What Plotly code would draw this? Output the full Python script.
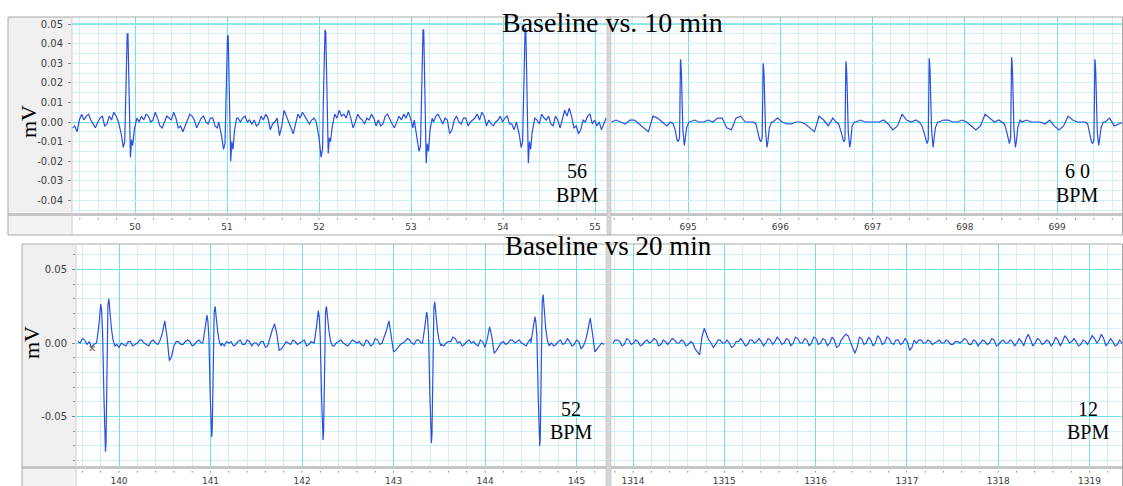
import math
import plotly.graph_objects as go

W, H = 1123, 486

# ---------------- data (time in s, signal in mV) ----------------
# Top-left: baseline samples every 0.05 s from 49.32 s, plus half-step samples
tl_start, tl_step = 49.32, 0.05
tl_base = [-0.003, -0.005, 0.004, 0.003, 0.001, -0.003, 0.002, -0.002, 0.003, 0.005,
           0.000, 0.000, 0.000, 0.000, 0.002, 0.003, 0.004, 0.000, 0.005, -0.002,
           0.000, 0.002, 0.005, -0.003, -0.005, 0.001, 0.003, -0.003, 0.002, 0.000,
           0.002, -0.002, -0.005, 0.000, 0.000, 0.000, 0.002, 0.002, 0.000, -0.001,
           -0.002, 0.003, 0.004, -0.004, 0.000, -0.007, 0.006, 0.000, -0.006, 0.004,
           0.005, 0.001, 0.001, 0.000, 0.000, 0.000, 0.000, 0.004, 0.006, 0.004,
           0.006, -0.003, 0.004, 0.001, 0.002, 0.004, -0.002, -0.002, 0.003, 0.001,
           -0.003, 0.003, 0.004, 0.005, -0.003, 0.000, 0.000, 0.000, 0.000, 0.003,
           0.001, 0.002, -0.006, 0.001, 0.000, 0.002, -0.002, 0.001, 0.004, 0.005,
           -0.002, -0.001, 0.000, 0.003, 0.002, -0.001, -0.004, 0.000, 0.000, 0.000,
           0.000, 0.001, 0.004, 0.001, -0.001, 0.003, -0.003, 0.006, 0.007, -0.003,
           -0.006, 0.001, 0.003, -0.001, -0.002, -0.004, 0.002]
tl_mid = [-0.002, 0.001, 0.001, 0.004, -0.001, 0.000, 0.003, -0.001, 0.001, 0.003,
          0.000, 0.000, 0.000, 0.000, 0.000, 0.001, 0.003, 0.001, 0.002, -0.003,
          0.003, 0.001, 0.002, -0.002, -0.002, 0.004, 0.001, 0.000, 0.003, -0.001,
          0.002, -0.003, 0.000, 0.000, 0.000, 0.000, 0.000, 0.003, 0.001, 0.001,
          -0.001, 0.001, 0.002, -0.001, 0.002, -0.002, 0.003, -0.002, -0.001, 0.002,
          0.003, -0.001, 0.002, 0.000, 0.000, 0.000, 0.000, 0.002, 0.003, 0.002,
          0.002, 0.000, 0.002, -0.001, 0.001, 0.002, 0.001, -0.001, 0.004, -0.001,
          0.000, 0.001, 0.002, 0.002, -0.004, 0.000, 0.000, 0.000, 0.000, 0.004,
          -0.001, 0.001, -0.004, 0.003, -0.001, 0.002, 0.000, 0.002, 0.001, 0.003,
          0.001, -0.002, 0.001, 0.000, 0.003, -0.001, 0.000, 0.000, 0.000, 0.000,
          0.002, -0.001, 0.002, 0.003, -0.002, 0.001, 0.001, 0.003, 0.003, -0.002,
          -0.004, 0.000, 0.004, 0.001, 0.000, -0.001]
tl_beats = [49.92, 51.01, 52.07, 53.135, 54.245]
tl_qrs_dt = [-0.10, -0.07, -0.048, -0.032, -0.022, -0.013, -0.005, 0.003, 0.010,
             0.017, 0.030, 0.042, 0.055, 0.072, 0.095]
tl_qrs_v = [
    [0.000, -0.006, -0.013, -0.010, 0.012, 0.027, 0.045, 0.045, 0.026, 0.000, -0.018, -0.009, -0.012, -0.004, 0.001],
    [0.000, -0.007, -0.014, -0.011, 0.012, 0.026, 0.044, 0.044, 0.025, 0.000, -0.020, -0.010, -0.014, -0.004, 0.002],
    [0.000, -0.008, -0.018, -0.014, 0.013, 0.028, 0.047, 0.046, 0.027, 0.000, -0.016, -0.008, -0.010, -0.003, 0.003],
    [0.001, -0.007, -0.015, -0.012, 0.012, 0.027, 0.047, 0.047, 0.027, 0.000, -0.021, -0.011, -0.015, -0.004, 0.002],
    [0.000, -0.006, -0.013, -0.010, 0.012, 0.028, 0.048, 0.047, 0.027, 0.000, -0.021, -0.010, -0.014, -0.005, 0.001],
]

# Top-right
tr_start, tr_step = 694.17, 0.05
tr_base = [0.000, 0.001, 0.000, -0.001, 0.001, 0.001, -0.001, -0.003, -0.005, 0.003,
           0.002, 0.000, -0.002, 0.000, 0.000, 0.000, 0.000, 0.000, 0.001, 0.000,
           0.000, 0.001, 0.000, 0.002, 0.002, -0.003, -0.004, 0.002, 0.003, 0.000,
           0.000, 0.000, 0.000, 0.000, 0.000, 0.000, 0.002, 0.000, -0.001, -0.001,
           0.000, 0.000, -0.001, -0.003, -0.005, 0.003, 0.001, -0.002, 0.002, 0.000,
           0.000, 0.000, 0.000, 0.000, 0.001, 0.000, 0.000, 0.000, 0.000, 0.001,
           -0.001, -0.004, -0.002, 0.004, 0.001, 0.000, 0.001, 0.000, 0.000, 0.000,
           0.000, 0.000, 0.001, 0.001, 0.000, 0.000, 0.001, 0.000, -0.002, -0.004,
           -0.002, 0.004, 0.002, 0.000, 0.001, 0.000, 0.000, 0.000, 0.000, 0.000,
           0.001, 0.000, 0.000, 0.000, -0.001, 0.001, -0.002, -0.004, -0.002, 0.003,
           0.001, 0.000, 0.000, 0.000, 0.000, 0.000, 0.000, 0.000, 0.002, -0.002,
           -0.001, 0.000]
tr_mid = None
tr_beats = [694.92, 695.816, 696.713, 697.616, 698.509, 699.412]
tr_qrs_dt = [-0.11, -0.08, -0.06, -0.04, -0.025, -0.012, -0.006, -0.002, 0.003, 0.008,
             0.014, 0.024, 0.040, 0.050, 0.065, 0.09]
tr_qrs_v = [
    [0.000, -0.001, -0.004, -0.009, -0.010, -0.008, 0.015, 0.032, 0.030, 0.025, 0.012, -0.004, -0.012, -0.009, -0.003, 0.000],
    [0.000, -0.001, -0.005, -0.009, -0.010, -0.008, 0.014, 0.030, 0.028, 0.024, 0.011, -0.004, -0.013, -0.010, -0.003, 0.000],
    [0.000, -0.001, -0.004, -0.008, -0.010, -0.009, 0.015, 0.031, 0.029, 0.024, 0.012, -0.005, -0.013, -0.010, -0.002, 0.000],
    [0.000, -0.002, -0.005, -0.009, -0.011, -0.009, 0.016, 0.0325, 0.030, 0.025, 0.012, -0.004, -0.013, -0.009, -0.003, 0.000],
    [0.000, -0.001, -0.004, -0.009, -0.011, -0.008, 0.016, 0.033, 0.031, 0.026, 0.013, -0.004, -0.013, -0.010, -0.003, 0.001],
    [0.000, -0.001, -0.005, -0.010, -0.011, -0.009, 0.015, 0.032, 0.030, 0.025, 0.012, -0.005, -0.012, -0.009, -0.003, 0.000],
]

# Bottom-left
bl_start, bl_step = 139.55, 0.05
bl_base = [0.001, 0.003, -0.001, -0.003, 0.000, 0.000, 0.000, 0.000, 0.000, -0.003,
           -0.001, 0.001, -0.002, 0.000, 0.002, -0.001, 0.001, 0.000, 0.002, 0.015,
           -0.012, -0.002, 0.001, -0.001, 0.002, -0.002, 0.001, 0.000, 0.000, 0.000,
           0.000, 0.000, -0.002, 0.000, -0.002, 0.001, -0.001, 0.002, -0.002, 0.000,
           0.001, -0.003, 0.004, 0.013, -0.005, -0.002, 0.000, 0.002, -0.001, 0.001,
           -0.002, 0.001, 0.000, 0.000, 0.000, 0.000, -0.002, 0.001, 0.000, -0.002,
           0.002, 0.000, -0.001, 0.002, -0.002, 0.003, -0.001, 0.004, 0.015, -0.006,
           -0.003, 0.000, 0.003, 0.000, 0.002, 0.000, 0.000, 0.000, 0.000, 0.000,
           -0.002, 0.001, 0.004, 0.000, -0.002, 0.001, 0.000, -0.001, 0.002, -0.003,
           0.011, -0.007, -0.002, 0.001, 0.000, 0.002, 0.001, 0.000, -0.002, 0.003,
           0.000, 0.000, 0.000, 0.000, -0.002, 0.001, -0.001, 0.003, -0.002, 0.002,
           -0.004, 0.002, 0.017, -0.006, -0.002, -0.001]
bl_mid = [0.000, 0.002, 0.001, -0.001, 0.000, 0.000, 0.000, 0.000, -0.001, 0.000,
          -0.002, 0.001, -0.001, 0.002, 0.000, -0.002, 0.002, -0.001, 0.007, 0.004,
          -0.009, 0.001, -0.001, 0.001, 0.001, -0.001, 0.002, 0.000, 0.000, 0.000,
          0.000, 0.000, 0.001, 0.001, -0.001, 0.002, -0.001, 0.001, 0.000, -0.002,
          0.001, -0.002, 0.009, 0.006, -0.004, 0.001, -0.001, 0.001, 0.000, 0.002,
          -0.001, 0.000, 0.000, 0.000, 0.000, 0.000, 0.000, 0.002, -0.001, 0.000,
          0.001, 0.001, -0.002, 0.001, -0.001, 0.002, 0.000, 0.009, 0.005, -0.005,
          -0.001, 0.001, 0.002, -0.001, 0.002, 0.000, 0.000, 0.000, 0.000, -0.001,
          0.000, 0.001, 0.003, 0.001, -0.001, 0.002, 0.001, -0.002, 0.001, 0.003,
          0.004, -0.005, 0.000, -0.001, 0.002, 0.000, 0.002, -0.001, 0.001, 0.000,
          0.000, 0.000, 0.000, 0.000, -0.001, 0.002, 0.000, 0.001, -0.001, 0.001,
          -0.002, 0.009, 0.006, -0.004, 0.000]
bl_beats = [139.855, 141.016, 142.233, 143.417, 144.601]
bl_qrs_dt = [-0.10, -0.075, -0.055, -0.045, -0.034, -0.020, -0.003, 0.003, 0.012, 0.024,
             0.034, 0.046, 0.062, 0.080, 0.100]
bl_qrs_v = [
    [0.000, 0.012, 0.0265, 0.022, 0.006, -0.036, -0.074, -0.068, -0.012, 0.026, 0.030, 0.021, 0.010, 0.002, -0.002],
    [0.000, 0.010, 0.019, 0.015, 0.004, -0.034, -0.064, -0.058, -0.010, 0.021, 0.025, 0.016, 0.008, 0.001, -0.002],
    [0.000, 0.011, 0.022, 0.018, 0.005, -0.035, -0.066, -0.060, -0.011, 0.021, 0.025, 0.016, 0.008, 0.001, -0.002],
    [0.000, 0.011, 0.021, 0.017, 0.005, -0.035, -0.068, -0.062, -0.011, 0.024, 0.028, 0.019, 0.009, 0.002, -0.002],
    [0.000, 0.009, 0.018, 0.014, 0.004, -0.036, -0.070, -0.064, -0.012, 0.028, 0.033, 0.023, 0.010, 0.002, -0.002],
]

# Bottom-right (no beats)
br_start, br_step = 1313.78, 0.05
br_base = [0.000, 0.002, -0.002, 0.003, -0.001, 0.002, -0.002, 0.001, 0.000, 0.003,
           -0.002, 0.002, -0.001, 0.003, 0.000, 0.002, -0.002, 0.001, -0.004, -0.008,
           0.010, 0.002, -0.003, 0.002, 0.000, 0.002, -0.003, 0.001, 0.003, -0.002,
           0.002, 0.000, 0.003, -0.002, 0.003, -0.001, 0.004, -0.001, 0.003, -0.002,
           0.004, 0.000, 0.003, -0.002, 0.004, -0.001, 0.003, -0.002, 0.004, -0.003,
           0.002, 0.006, 0.001, -0.007, 0.004, -0.001, 0.004, -0.002, 0.005, -0.001,
           0.004, 0.000, 0.002, -0.001, 0.003, -0.005, 0.002, 0.002, 0.000, 0.002,
           -0.001, 0.001, 0.000, 0.002, -0.001, 0.001, 0.000, 0.003, -0.001, 0.002,
           -0.002, 0.002, -0.001, 0.003, -0.002, 0.001, 0.000, 0.002, -0.002, 0.003,
           -0.002, 0.006, -0.002, 0.003, -0.001, 0.002, -0.002, 0.004, -0.002, 0.005,
           0.000, 0.003, -0.002, 0.002, -0.001, 0.005, 0.000, 0.006, -0.002, 0.003,
           -0.002, 0.002, -0.003]
br_mid = [0.002, 0.001, -0.001, 0.002, 0.000, 0.001, -0.001, 0.002, 0.001, 0.002,
          -0.001, 0.001, 0.001, 0.002, 0.000, 0.001, -0.001, 0.000, -0.006, 0.004,
          0.006, 0.000, -0.001, 0.002, 0.000, 0.000, -0.002, 0.001, 0.001, -0.001,
          0.002, 0.001, 0.001, 0.000, 0.002, 0.001, 0.002, 0.000, 0.002, 0.000,
          0.003, 0.000, 0.002, 0.000, 0.003, 0.000, 0.002, 0.000, 0.002, -0.002,
          0.004, 0.005, -0.002, -0.003, 0.003, 0.000, 0.002, 0.000, 0.003, 0.000,
          0.003, -0.001, 0.002, 0.000, 0.001, -0.003, 0.000, 0.002, 0.000, 0.001,
          0.000, 0.002, 0.000, 0.001, -0.001, 0.001, 0.001, 0.002, -0.001, 0.001,
          0.000, 0.001, 0.000, 0.002, -0.001, 0.002, 0.000, 0.001, 0.000, 0.001,
          0.003, 0.002, 0.000, 0.002, 0.000, 0.001, 0.000, 0.002, 0.001, 0.003,
          0.001, 0.001, -0.001, 0.001, 0.002, 0.003, 0.002, 0.003, 0.000, 0.001,
          -0.001, 0.000]
br_beats = []
br_qrs_dt = []
br_qrs_v = []

top_y_ticks = [0.05, 0.04, 0.03, 0.02, 0.01, 0.0, -0.01, -0.02, -0.03, -0.04]
top_y_labels = ["0.05", "0.04", "0.03", "0.02", "0.01", "0.00", "-0.01", "-0.02", "-0.03", "-0.04"]
bot_y_ticks = [0.05, 0.0, -0.05]
bot_y_labels = ["0.05", "0.00", "-0.05"]
titles = ["Baseline vs. 10 min", "Baseline vs 20 min"]
bpm_values = ["56", "6 0", "52", "12"]
unit_label = "mV"
rate_unit = "BPM"

# ---------------- helpers ----------------
def fx(p):
    return p / W

def fy(p):
    return 1 - p / H

def build(start, step, base, mid, beats, dts, vals):
    samples = [(start + i * step, v) for i, v in enumerate(base)]
    if mid:
        samples += [(start + (j + 0.5) * step, v) for j, v in enumerate(mid)]
    pts = []
    for t, v in samples:
        if beats and any(b + dts[0] - 1e-6 <= t <= b + dts[-1] + 1e-6 for b in beats):
            continue
        pts.append((t, v))
    for b, row in zip(beats, vals):
        for d, v in zip(dts, row):
            pts.append((b + d, v))
    pts.sort()
    return [p[0] for p in pts], [p[1] for p in pts]

MAJOR = "#70e2ec"
MINOR = "#cdf1f5"
TRACE = "#2a4fe3"
TICKF = dict(family="DejaVu Sans", size=9, color="#3c3c3c")
YTICKF = dict(family="DejaVu Sans", size=10, color="#3c3c3c")
SERIF = "Liberation Serif"

TOP_YR = [-(213 - 122) / 1960, (122 - 17) / 1960]
BOT_YR = [-(466 - 343) / 1470, (343 - 244) / 1470]

panels = [
    dict(k="", box=(72, 607, 17, 213), xr=[49.315, 55.13], yr=TOP_YR,
         data=(tl_start, tl_step, tl_base, tl_mid, tl_beats, tl_qrs_dt, tl_qrs_v), top=True, left=True),
    dict(k="2", box=(611, 1123, 17, 213), xr=[694.165, 699.715], yr=TOP_YR,
         data=(tr_start, tr_step, tr_base, tr_mid, tr_beats, tr_qrs_dt, tr_qrs_v), top=True, left=False),
    dict(k="3", box=(76, 606, 244, 466), xr=[139.53, 145.322], yr=BOT_YR,
         data=(bl_start, bl_step, bl_base, bl_mid, bl_beats, bl_qrs_dt, bl_qrs_v), top=False, left=True),
    dict(k="4", box=(611, 1123, 244, 466), xr=[1313.759, 1319.367], yr=BOT_YR,
         data=(br_start, br_step, br_base, br_mid, br_beats, br_qrs_dt, br_qrs_v), top=False, left=False),
]

fig = go.Figure()
layout = dict(width=W, height=H, margin=dict(l=0, r=0, t=0, b=0),
              paper_bgcolor="white", plot_bgcolor="white", showlegend=False)
shapes = []

def rect(x0, y0, x1, y1, fill, line=None, lw=0, layer="below"):
    shapes.append(dict(type="rect", xref="paper", yref="paper",
                       x0=fx(x0), x1=fx(x1), y0=fy(y1), y1=fy(y0),
                       fillcolor=fill, line=dict(color=line or fill, width=lw), layer=layer))

rect(8, 17, 72, 213, "#f0f0f0")
rect(8, 216, 72, 235, "#f3f3f3")
rect(22, 244, 76, 466, "#f0f0f0")
rect(22, 469, 76, 490, "#f3f3f3")

for p in panels:
    k = p["k"]
    x0, x1, y0, y1 = p["box"]
    t, v = build(*p["data"])
    fig.add_trace(go.Scatter(x=t, y=v, mode="lines", xaxis="x" + k, yaxis="y" + k,
                             line=dict(color=TRACE, width=1.2), hoverinfo="skip"))
    xa = dict(domain=[fx(x0), fx(x1)], range=p["xr"], anchor="y" + k,
              tick0=0, dtick=1, showgrid=True, gridcolor=MAJOR, gridwidth=1.4,
              minor=dict(tick0=0, dtick=0.2, showgrid=True, gridcolor=MINOR, gridwidth=1),
              ticks="", showline=False, zeroline=False, tickfont=TICKF,
              ticklabelstandoff=7 if p["top"] else 8, fixedrange=True)
    if p["top"]:
        ticks, labels, minor_dt, gcol = top_y_ticks, top_y_labels, 0.005, MINOR
    else:
        ticks, labels, minor_dt, gcol = bot_y_ticks, bot_y_labels, 0.01, MAJOR
    ya = dict(domain=[fy(y1), fy(y0)], range=p["yr"], anchor="x" + k,
              tickmode="array", tickvals=ticks, ticktext=labels,
              showgrid=True, gridcolor=gcol, gridwidth=1.4 if gcol == MAJOR else 1,
              minor=dict(tick0=0, dtick=minor_dt, showgrid=True, gridcolor=MINOR, gridwidth=1,
                         ticks="outside" if (p["left"] and not p["top"]) else "",
                         ticklen=2, tickcolor="#999"),
              zeroline=True, zerolinecolor=MAJOR, zerolinewidth=1.4,
              showline=False, fixedrange=True,
              showticklabels=p["left"], ticks="outside" if p["left"] else "",
              ticklen=3, tickcolor="#888", tickfont=YTICKF, ticklabelstandoff=3)
    layout["xaxis" + k] = xa
    layout["yaxis" + k] = ya
    if p["top"]:
        shapes.append(dict(type="line", xref="paper", yref="y" + k,
                           x0=fx(x0), x1=fx(x1), y0=0.05, y1=0.05, layer="above",
                           line=dict(color=MAJOR, width=1.4)))
    # small tick dots in the time strip
    dot_y = 218 if p["top"] else 471
    kk0 = math.ceil(p["xr"][0] / 0.2)
    kk1 = math.floor(p["xr"][1] / 0.2)
    for kk in range(kk0, kk1 + 1):
        tt = kk * 0.2
        shapes.append(dict(type="line", xref="x" + k, yref="paper", x0=tt, x1=tt,
                           y0=fy(dot_y + 1.6), y1=fy(dot_y), layer="above",
                           line=dict(color="#8a8a8a", width=1)))

rect(8, 213, 1123, 216, "#c6c6c6", layer="above")
rect(22, 466, 1123, 469, "#c6c6c6", layer="above")
rect(607, 17, 611, 235, "#d6d6d6", line="#bdbdbd", lw=0.6, layer="above")
rect(606, 244, 611, 490, "#d6d6d6", line="#bdbdbd", lw=0.6, layer="above")
shapes.append(dict(type="rect", xref="paper", yref="paper", x0=fx(8), x1=fx(1122.5),
                   y0=fy(235), y1=fy(17), line=dict(color="#a8a8a8", width=1), layer="above"))
shapes.append(dict(type="rect", xref="paper", yref="paper", x0=fx(22), x1=fx(1122.5),
                   y0=fy(490), y1=fy(244), line=dict(color="#a8a8a8", width=1), layer="above"))
shapes.append(dict(type="line", xref="paper", yref="paper", x0=fx(72), x1=fx(72),
                   y0=fy(235), y1=fy(17), line=dict(color="#d0d0d0", width=1), layer="above"))
shapes.append(dict(type="line", xref="paper", yref="paper", x0=fx(76), x1=fx(76),
                   y0=fy(490), y1=fy(244), line=dict(color="#d0d0d0", width=1), layer="above"))

layout["shapes"] = shapes

ann = []
def text(x, y, s, size, family=SERIF, color="black", angle=0, pad=1):
    ann.append(dict(x=fx(x), y=fy(y), xref="paper", yref="paper", text=s, showarrow=False,
                    xanchor="center", yanchor="middle", textangle=angle, borderpad=pad,
                    font=dict(family=family, size=size, color=color)))

text(612, 23, titles[0], 28)
text(608, 246, titles[1], 27, pad=0)
text(28, 122, unit_label, 22, angle=-90)
text(31, 343, unit_label, 22, angle=-90)
bpm_pos = [(577, 171, 195), (1077, 171, 195), (571, 409, 432), (1088, 409, 432)]
for s, (bx, by1, by2) in zip(bpm_values, bpm_pos):
    text(bx, by1, s, 20)
    text(bx, by2, rate_unit, 20)
text(92, 348, "✕", 10, family="DejaVu Sans", color="#7a6a50")
layout["annotations"] = ann

fig.update_layout(**layout)
fig.write_html("out.html")
